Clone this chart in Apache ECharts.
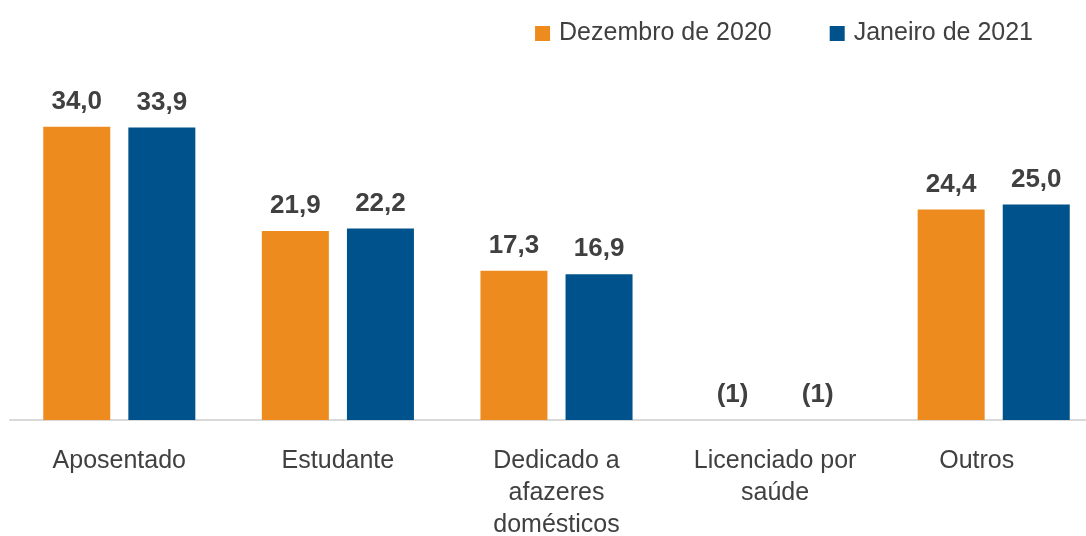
<!DOCTYPE html>
<html>
<head>
<meta charset="utf-8">
<script src="https://cdn.jsdelivr.net/npm/echarts@6/dist/echarts.min.js"></script>
<style>
 html, body { margin: 0; padding: 0; background: #fff; }
 #chart { width: 1086px; height: 536px; }
</style>
</head>
<body>
<div id="chart"></div>
<script>
 var categorias = ['Aposentado', 'Estudante', 'Dedicado a\nafazeres\ndomésticos', 'Licenciado por\nsaúde', 'Outros'];
 var dezembro2020 = [34.0, 21.9, 17.3, 0, 24.4];
 var janeiro2021 = [33.9, 22.2, 16.9, 0, 25.0];
 // categoria sem dado divulgado -> nota (1)
 var notas = ['', '', '', '(1)', ''];

 var fonte = '"Liberation Sans", Arial, sans-serif';
 var cinza = '#404040';

 function rotulo(p) {
     if (notas[p.dataIndex]) return notas[p.dataIndex];
     return p.value.toFixed(1).replace('.', ',');
 }

 // ultimo rotulo fica um pouco deslocado para a esquerda (grafico cortado a direita)
 var eixoX = categorias.map(function (c, i) {
     if (i === categorias.length - 1) return { value: c, textStyle: { padding: [0, 34, 0, 0] } };
     return c;
 });

 var myChart = echarts.init(document.getElementById('chart'));
 var option = {
     animation: false,
     legend: {
         data: ['Dezembro de 2020', 'Janeiro de 2021'],
         right: 48,
         top: 16,
         itemWidth: 15,
         itemHeight: 15,
         itemGap: 58,
         icon: 'rect',
         textStyle: { fontFamily: fonte, fontSize: 25, color: cinza, padding: [0, 0, 0, 4] }
     },
     grid: { left: 10, width: 1093, top: 75, bottom: 116, outerBoundsMode: 'none', containLabel: false },
     xAxis: {
         type: 'category',
         data: eixoX,
         axisTick: { show: false },
         axisLine: { lineStyle: { color: '#d9d9d9', width: 2 } },
         axisLabel: {
             margin: 25,
             fontFamily: fonte,
             fontSize: 25,
             lineHeight: 32,
             color: cinza,
             interval: 0
         }
     },
     yAxis: { type: 'value', min: 0, max: 40, show: false },
     series: [{
         name: 'Dezembro de 2020',
         type: 'bar',
         data: dezembro2020,
         barWidth: 67,
         barGap: '27%',
         itemStyle: { color: '#ed8b1e' },
         label: {
             show: true, position: 'top', distance: 12, formatter: rotulo,
             fontFamily: fonte, fontSize: 26, fontWeight: 'bold', color: cinza
         }
     }, {
         name: 'Janeiro de 2021',
         type: 'bar',
         data: janeiro2021,
         barWidth: 67,
         barGap: '27%',
         itemStyle: { color: '#00528c' },
         label: {
             show: true, position: 'top', distance: 12, formatter: rotulo,
             fontFamily: fonte, fontSize: 26, fontWeight: 'bold', color: cinza
         }
     }]
 };
 myChart.setOption(option);
</script>
</body>
</html>
